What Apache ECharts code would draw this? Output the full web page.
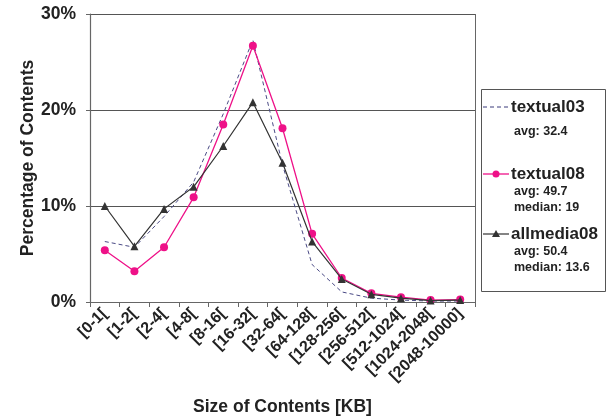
<!DOCTYPE html>
<html><head><meta charset="utf-8">
<script src="https://cdn.jsdelivr.net/npm/echarts@6/dist/echarts.min.js"></script>
<style>html,body{margin:0;padding:0;background:#fff}#c{width:608px;height:417px}</style>
</head><body><div id="c"></div>
<script>
var categories = ['[0-1[','[1-2[','[2-4[','[4-8[','[8-16[','[16-32[','[32-64[','[64-128[','[128-256[','[256-512[','[512-1024[','[1024-2048[','[2048-10000]'];
var textual03 = [6.3, 5.7, 8.9, 12.5, 19.6, 27.3, 14.3, 3.9, 1.05, 0.4, 0.2, 0.1, 0.1];
var textual08 = [5.4, 3.2, 5.7, 10.9, 18.5, 26.7, 18.1, 7.1, 2.5, 0.9, 0.5, 0.2, 0.25];
var allmedia08 = [10.0, 5.8, 9.7, 12.0, 16.25, 20.8, 14.5, 6.3, 2.4, 0.8, 0.4, 0.15, 0.2];
var yTicks = [0, 10, 20, 30];
var legendNames = ['textual03', 'textual08', 'allmedia08'];
var legendStats = [['avg: 32.4'], ['avg: 49.7', 'median: 19'], ['avg: 50.4', 'median: 13.6']];

var FONT = 'Liberation Sans, Arial, sans-serif';
var chart = echarts.init(document.getElementById('c'), null, {renderer: 'canvas'});

var lg = [];
var LX = 481, LY = 89, LW = 124, LH = 202;
lg.push({type:'rect', shape:{x:LX+0.5, y:LY+0.5, width:LW, height:LH}, style:{fill:'#fff', stroke:'#555', lineWidth:1}});
var rows = [107, 174, 234];
lg.push({type:'line', shape:{x1:LX+2, y1:rows[0], x2:LX+28, y2:rows[0]}, style:{stroke:'#3a3a7a', lineWidth:1, lineDash:[4,3]}});
lg.push({type:'line', shape:{x1:LX+2, y1:rows[1], x2:LX+28, y2:rows[1]}, style:{stroke:'#ee1188', lineWidth:1.3}});
lg.push({type:'circle', shape:{cx:LX+15, cy:rows[1], r:3.5}, style:{fill:'#ee1188'}});
lg.push({type:'line', shape:{x1:LX+2, y1:rows[2], x2:LX+28, y2:rows[2]}, style:{stroke:'#333', lineWidth:1.2}});
lg.push({type:'polygon', shape:{points:[[LX+15,rows[2]-4],[LX+11,rows[2]+3],[LX+19,rows[2]+3]]}, style:{fill:'#333'}});
for (var i = 0; i < 3; i++) {
  lg.push({type:'text', x:LX+30, y:rows[i], style:{text:legendNames[i], fill:'#222', font:'bold 17px ' + FONT, verticalAlign:'middle'}});
  for (var j = 0; j < legendStats[i].length; j++) {
    lg.push({type:'text', x:LX+33, y:rows[i] + (i===0?25:18) + j*16, style:{text:legendStats[i][j], fill:'#222', font:'bold 12.5px ' + FONT, verticalAlign:'middle'}});
  }
}

chart.setOption({
  animation: false,
  backgroundColor: '#fff',
  grid: {left: 90, right: 133, top: 14, bottom: 115, containLabel: false, outerBoundsMode: 'none'},
  xAxis: {
    type: 'category', data: categories, boundaryGap: true,
    axisLine: {lineStyle: {color: '#666', width: 1.2}},
    axisTick: {show: true, length: 5, lineStyle: {color: '#666'}},
    axisLabel: {rotate: 45, interval: 0, color: '#222', fontFamily: FONT, fontWeight: 'bold', fontSize: 16, margin: 9},
    name: 'Size of Contents [KB]', nameLocation: 'middle', nameGap: 96, nameMoveOverlap: false,
    nameTextStyle: {color: '#222', fontFamily: FONT, fontWeight: 'bold', fontSize: 17.5}
  },
  yAxis: {
    type: 'value', min: 0, max: 30, interval: 10,
    axisLine: {show: true, lineStyle: {color: '#666', width: 1.2}},
    axisTick: {show: true, length: 4, lineStyle: {color: '#666'}},
    splitLine: {show: true, lineStyle: {color: '#555', width: 1}},
    axisLabel: {formatter: function(v){return yTicks.indexOf(v) >= 0 ? v + '%' : '';}, color: '#222', fontFamily: FONT, fontWeight: 'bold', fontSize: 17.5, margin: 14},
    name: 'Percentage of Contents', nameLocation: 'middle', nameGap: 53, nameMoveOverlap: false,
    nameTextStyle: {color: '#222', fontFamily: FONT, fontWeight: 'bold', fontSize: 17.5}
  },
  graphic: [
    {type:'line', shape:{x1:475.5, y1:14, x2:475.5, y2:302}, style:{stroke:'#666', lineWidth:1}, z:1}
  ].concat(lg),
  series: [
    {name: 'textual03', type: 'line', data: textual03, showSymbol: false, symbol: 'none',
     lineStyle: {color: '#4a4a85', width: 1, type: [4, 3]}, z: 3},
    {name: 'textual08', type: 'line', data: textual08, symbol: 'circle', symbolSize: 8,
     itemStyle: {color: '#ee1188'}, lineStyle: {color: '#ee1188', width: 1.3}, z: 4},
    {name: 'allmedia08', type: 'line', data: allmedia08, symbol: 'triangle', symbolSize: 8,
     itemStyle: {color: '#333'}, lineStyle: {color: '#333', width: 1.2}, z: 5}
  ]
});
</script></body></html>
